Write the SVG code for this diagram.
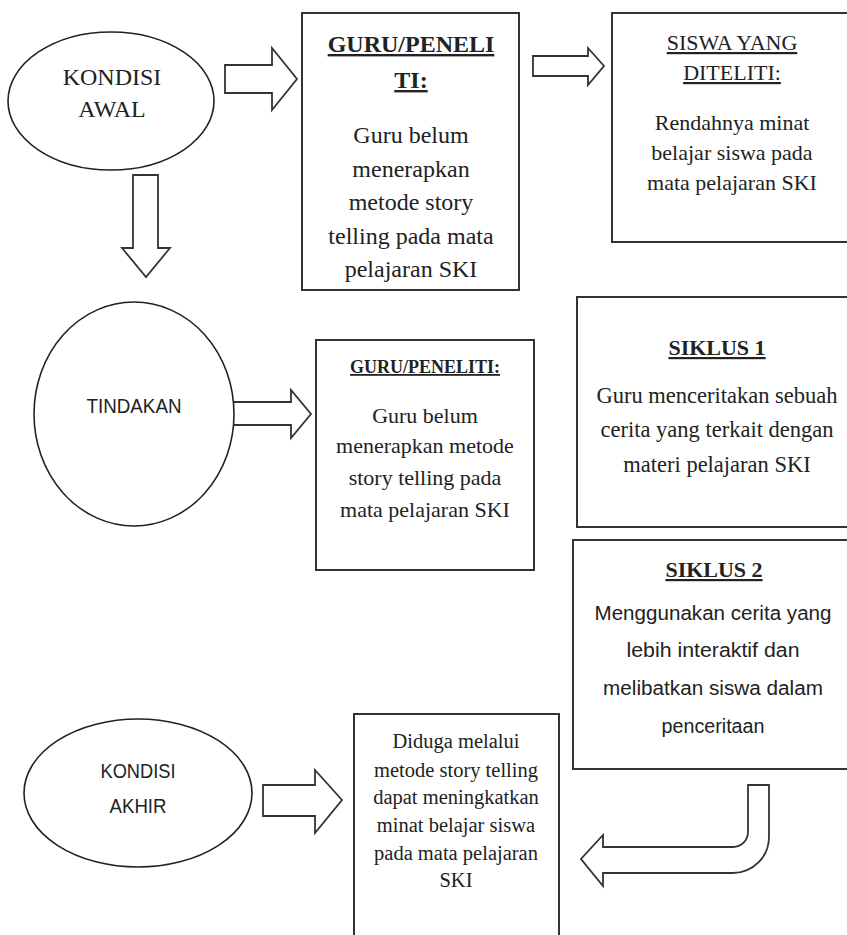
<svg xmlns="http://www.w3.org/2000/svg" width="847" height="935" viewBox="0 0 847 935">
<style>
.bg{fill:#ffffff}
.box{fill:#ffffff;stroke:#333;stroke-width:2}
.ell{fill:#ffffff;stroke:#222;stroke-width:1.6}
.arr{fill:#ffffff;stroke:#333;stroke-width:1.8;stroke-linejoin:miter}
.serif{font-family:"Liberation Serif","Times New Roman",serif;fill:#222;text-anchor:middle}
.sans{font-family:"Liberation Sans",Arial,sans-serif;fill:#222;text-anchor:middle}
.ul{text-decoration:underline}
.b{font-weight:bold}
</style>
<rect class="bg" x="0" y="0" width="847" height="935"/>

<g id="connectors">
  <polygon class="arr" points="225,65 272,65 272,48 297,79 272,110 272,93 225,93"/>
  <polygon class="arr" points="533,56 588,56 588,48 604,66 588,85 588,76 533,76"/>
  <polygon class="arr" points="133,175 158,175 158,248 170,248 146,277 122,248 133,248"/>
  <polygon class="arr" points="232,402 291,402 291,390 311,414 291,438 291,425 232,425"/>
  <polygon class="arr" points="263,785 315,785 315,770 342,800 315,833 315,816 263,816"/>
  <path class="arr" d="M748,785 L769,785 L769,837 A36,36 0 0 1 733,873 L603,873 L603,886 L581,859 L603,835 L603,847 L733,847 A15,15 0 0 0 748,832 Z"/>
</g>

<g id="kondisi-awal">
  <ellipse class="ell" cx="111" cy="101" rx="103" ry="69"/>
  <text class="serif" x="112" y="85" font-size="24">KONDISI</text>
  <text class="serif" x="112" y="117" font-size="24">AWAL</text>
</g>

<g id="guru-peneliti-1">
  <rect class="box" x="302" y="13" width="217" height="277"/>
  <text class="serif b ul" x="411" y="52" font-size="24">GURU/PENELI</text>
  <text class="serif b ul" x="411" y="88" font-size="24">TI:</text>
  <text class="serif" x="411" y="143" font-size="24">Guru belum</text>
  <text class="serif" x="411" y="177" font-size="24">menerapkan</text>
  <text class="serif" x="411" y="210" font-size="24">metode story</text>
  <text class="serif" x="411" y="244" font-size="24">telling pada mata</text>
  <text class="serif" x="411" y="277" font-size="24">pelajaran SKI</text>
</g>

<g id="siswa">
  <rect class="box" x="612" y="13" width="245" height="229"/>
  <text class="serif ul" x="732" y="50" font-size="22">SISWA YANG</text>
  <text class="serif ul" x="732" y="80" font-size="22">DITELITI:</text>
  <text class="serif" x="732" y="130" font-size="22">Rendahnya minat</text>
  <text class="serif" x="732" y="160" font-size="22">belajar siswa pada</text>
  <text class="serif" x="732" y="190" font-size="22">mata pelajaran SKI</text>
</g>

<g id="tindakan">
  <ellipse class="ell" cx="134" cy="414" rx="100" ry="112"/>
  <text class="sans" x="134" y="413" font-size="20" textLength="95" lengthAdjust="spacingAndGlyphs">TINDAKAN</text>
</g>

<g id="guru-peneliti-2">
  <rect class="box" x="316" y="340" width="218" height="230"/>
  <text class="serif b ul" x="425" y="373" font-size="18">GURU/PENELITI:</text>
  <text class="serif" x="425" y="423" font-size="22">Guru belum</text>
  <text class="serif" x="425" y="453" font-size="22">menerapkan metode</text>
  <text class="serif" x="425" y="485" font-size="22">story telling pada</text>
  <text class="serif" x="425" y="517" font-size="22">mata pelajaran SKI</text>
</g>

<g id="siklus-1">
  <rect class="box" x="577" y="297" width="280" height="230"/>
  <text class="serif b ul" x="717" y="355" font-size="22">SIKLUS 1</text>
  <text class="serif" x="717" y="403" font-size="22.5">Guru menceritakan sebuah</text>
  <text class="serif" x="717" y="437" font-size="22.5">cerita yang terkait dengan</text>
  <text class="serif" x="717" y="472" font-size="22.5">materi pelajaran SKI</text>
</g>

<g id="siklus-2">
  <rect class="box" x="573" y="540" width="284" height="229"/>
  <text class="serif b ul" x="714" y="577" font-size="22">SIKLUS 2</text>
  <text class="sans" x="713" y="620" font-size="20" textLength="237" lengthAdjust="spacingAndGlyphs">Menggunakan cerita yang</text>
  <text class="sans" x="713" y="657" font-size="20" textLength="173" lengthAdjust="spacingAndGlyphs">lebih interaktif dan</text>
  <text class="sans" x="713" y="695" font-size="20" textLength="220" lengthAdjust="spacingAndGlyphs">melibatkan siswa dalam</text>
  <text class="sans" x="713" y="733" font-size="20" textLength="103" lengthAdjust="spacingAndGlyphs">penceritaan</text>
</g>

<g id="kondisi-akhir">
  <ellipse class="ell" cx="138" cy="793" rx="114" ry="74"/>
  <text class="sans" x="138" y="778" font-size="20" textLength="75" lengthAdjust="spacingAndGlyphs">KONDISI</text>
  <text class="sans" x="138" y="813" font-size="20" textLength="57" lengthAdjust="spacingAndGlyphs">AKHIR</text>
</g>

<g id="hasil">
  <rect class="box" x="354" y="714" width="205" height="230"/>
  <text class="serif" x="456" y="748" font-size="20.5">Diduga melalui</text>
  <text class="serif" x="456" y="777" font-size="20.5">metode story telling</text>
  <text class="serif" x="456" y="804" font-size="20.5">dapat meningkatkan</text>
  <text class="serif" x="456" y="832" font-size="20.5">minat belajar siswa</text>
  <text class="serif" x="456" y="860" font-size="20.5">pada mata pelajaran</text>
  <text class="serif" x="456" y="887" font-size="20.5">SKI</text>
</g>
</svg>
